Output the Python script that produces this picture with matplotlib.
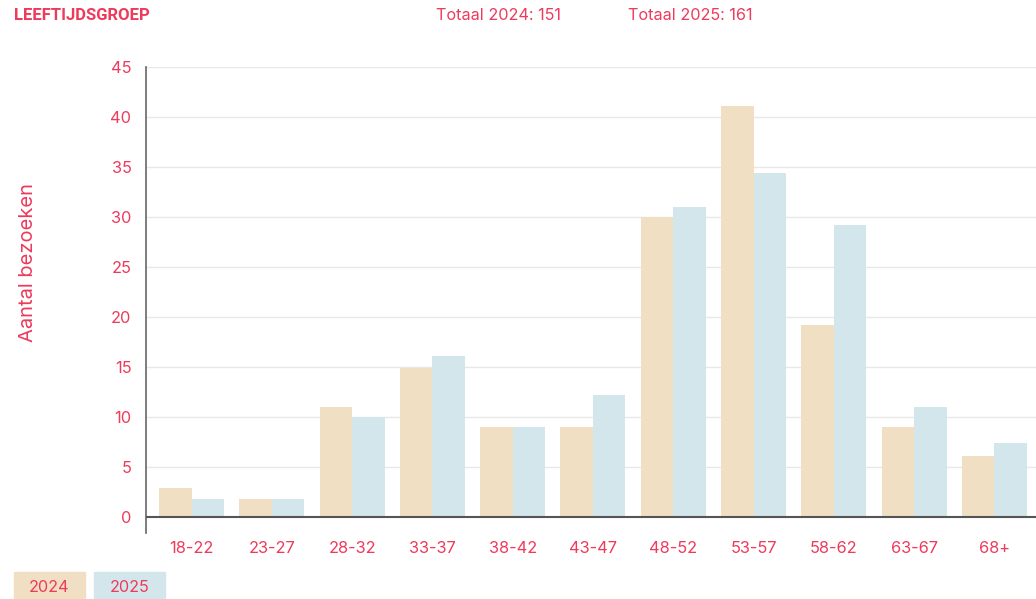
import numpy as np
import matplotlib.pyplot as plt
from matplotlib.patches import Rectangle

plt.rcParams['font.family'] = ['Inter', 'DejaVu Sans']

groups = ['18-22', '23-27', '28-32', '33-37', '38-42', '43-47',
          '48-52', '53-57', '58-62', '63-67', '68+']
visits_2024 = [2.9, 1.8, 11.0, 14.9, 9.0, 9.0, 30.0, 41.1, 19.2, 9.0, 6.1]
visits_2025 = [1.8, 1.8, 10.0, 16.1, 9.0, 12.2, 31.0, 34.4, 29.2, 11.0, 7.4]
series_labels = ['2024', '2025']
totals = [151, 161]

red = '#EE3A5B'
c2024 = '#F0DFC3'
c2025 = '#D3E6EC'

fig = plt.figure(figsize=(10.36, 5.99), dpi=100)
ax = fig.add_axes([0.1409, 0.1102, 0.8591, 0.778])

x = np.arange(len(groups))
w = 0.405
ax.bar(x - w / 2, visits_2024, width=w, color=c2024, zorder=2)
ax.bar(x + w / 2, visits_2025, width=w, color=c2025, zorder=2)

ax.set_xlim(-0.57, 10.52)
ax.set_ylim(-1.6, 45)
ax.set_yticks(range(0, 46, 5))
ax.set_xticks(x)
ax.set_xticklabels(groups)
ax.tick_params(axis='both', length=0, colors=red, labelsize=11.8)
ax.tick_params(axis='y', pad=10.5)
ax.tick_params(axis='x', pad=6)

for v in range(5, 46, 5):
    ax.axhline(v, color='#E8E8E8', lw=1, zorder=1)
ax.axhline(0, color='#555555', lw=1.5, zorder=3)

for s in ['top', 'right', 'bottom']:
    ax.spines[s].set_visible(False)
ax.spines['left'].set_color('#666666')
ax.spines['left'].set_linewidth(1.2)

fig.text(28 / 1036, 1 - 262 / 599, 'Aantal bezoeken', rotation=90, color=red,
         fontsize=14.5, ha='center', va='center')

fig.text(14 / 1036, 1 - 15 / 599, 'LEEFTIJDSGROEP', color=red, fontsize=12,
         fontweight='bold', ha='left', va='center',
         family=['Roboto', 'DejaVu Sans'])

fig.text(436 / 1036, 1 - 16 / 599, f'Totaal {series_labels[0]}: {totals[0]}',
         color=red, fontsize=11.7, ha='left', va='center')
fig.text(628 / 1036, 1 - 16 / 599, f'Totaal {series_labels[1]}: {totals[1]}',
         color=red, fontsize=11.7, ha='left', va='center')

# legend boxes
for i, (lab, col) in enumerate(zip(series_labels, [c2024, c2025])):
    x0 = (14 + i * 80) / 1036
    fig.add_artist(Rectangle((x0, 0), 71 / 1036, 27 / 599, transform=fig.transFigure,
                             color=col, zorder=0))
    fig.text(x0 + 35.5 / 1036, 1 - 587 / 599, lab, color=red, fontsize=11.7,
             ha='center', va='center')

fig.savefig('out.png', dpi=100)
